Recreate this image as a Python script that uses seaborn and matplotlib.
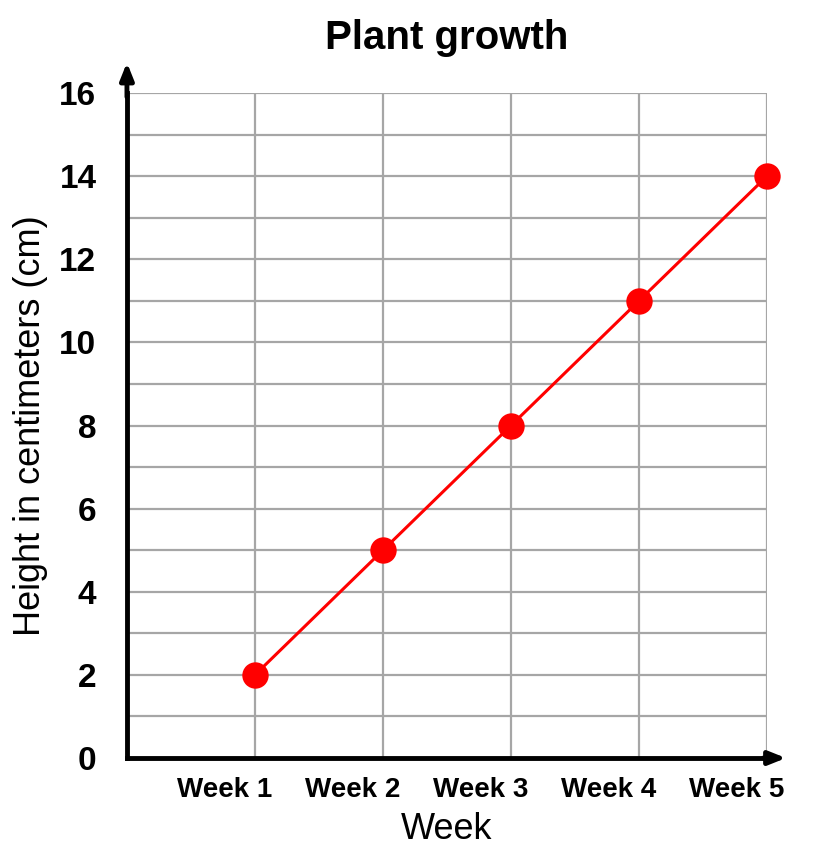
import matplotlib
matplotlib.use("Agg")
import matplotlib.pyplot as plt
import matplotlib.transforms as mtransforms
from matplotlib.ticker import MultipleLocator
import pandas as pd
import seaborn as sns

# data
weeks = ["Week 1", "Week 2", "Week 3", "Week 4", "Week 5"]
week_num = [1, 2, 3, 4, 5]
height_cm = [2, 5, 8, 11, 14]

df = pd.DataFrame({"week": week_num, "height": height_cm})

sns.set_style("white")
plt.rcParams["font.family"] = ["Liberation Sans", "DejaVu Sans"]
plt.rcParams["text.color"] = "black"
plt.rcParams["axes.labelcolor"] = "black"
plt.rcParams["xtick.color"] = "black"
plt.rcParams["ytick.color"] = "black"

fig = plt.figure(figsize=(8.19, 8.48), dpi=100)
ax = fig.add_axes([0.155, 0.1061, 0.7815, 0.7842])

sns.lineplot(data=df, x="week", y="height", ax=ax, color="#ff0000",
             linewidth=2.2, marker="o", markersize=19, markeredgewidth=0,
             clip_on=False, zorder=5)

ax.set_xlim(0, 5)
ax.set_ylim(0, 16)
ax.set_xticks(week_num)
ax.set_xticklabels(weeks, fontsize=20, fontweight="bold")
ax.yaxis.set_major_locator(MultipleLocator(2))
ax.yaxis.set_minor_locator(MultipleLocator(1))
for lab in ax.get_yticklabels():
    lab.set_fontsize(24)
    lab.set_fontweight("bold")
ax.tick_params(axis="both", which="both", length=0)
ax.tick_params(axis="x", pad=14)
ax.tick_params(axis="y", pad=22)

# shift week labels a bit to the left, like the reference
offset = mtransforms.ScaledTranslation(-0.3, 0, fig.dpi_scale_trans)
for lab in ax.get_xticklabels():
    lab.set_transform(lab.get_transform() + offset)

ax.grid(True, which="both", color="#a6a6a6", linewidth=1.6)
ax.set_axisbelow(True)

ax.spines["top"].set_visible(False)
ax.spines["right"].set_visible(False)
ax.spines["left"].set_linewidth(3.5)
ax.spines["bottom"].set_linewidth(3.5)
ax.spines["left"].set_color("black")
ax.spines["bottom"].set_color("black")

# arrow heads on the axes
ax.annotate("", xy=(0, 1.05), xytext=(0, 0.99), xycoords="axes fraction",
            arrowprops=dict(arrowstyle="-|>,head_length=1.0,head_width=0.4",
                            color="black", lw=3.5), annotation_clip=False)
ax.annotate("", xy=(1.034, 0), xytext=(0.99, 0), xycoords="axes fraction",
            arrowprops=dict(arrowstyle="-|>,head_length=1.0,head_width=0.4",
                            color="black", lw=3.5), annotation_clip=False)

ax.set_xlabel("Week", fontsize=26, labelpad=6)
ax.set_ylabel("Height in centimeters (cm)", fontsize=26, labelpad=8)
ax.set_title("Plant growth", fontsize=29, fontweight="bold", pad=32)

fig.savefig("out.png", dpi=100)
